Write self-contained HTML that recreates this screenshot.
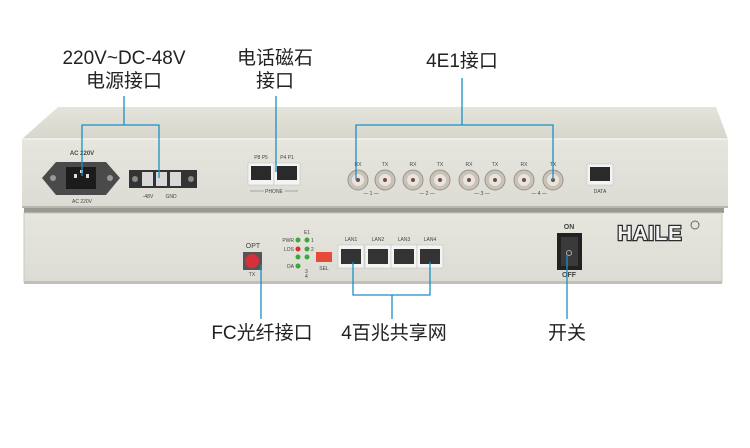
<!DOCTYPE html>
<html><head><meta charset="utf-8"><style>
html,body{margin:0;padding:0;background:#fff;}
svg{display:block;}
.lbl{font-family:"Liberation Sans","Noto Sans CJK SC",sans-serif;font-size:19px;fill:#222;}
.s{font-family:"Liberation Sans",sans-serif;font-size:5px;fill:#444;}
</style></head><body>
<svg width="750" height="448" viewBox="0 0 750 448" xmlns="http://www.w3.org/2000/svg">
<defs>
<linearGradient id="top" x1="0" y1="0" x2="0" y2="1"><stop offset="0" stop-color="#e4e4dc"/><stop offset="1" stop-color="#d6d6cc"/></linearGradient>
<linearGradient id="front" x1="0" y1="0" x2="0" y2="1"><stop offset="0" stop-color="#e6e6df"/><stop offset="1" stop-color="#dcdcd4"/></linearGradient>
</defs>
<polygon points="58,107 716,107 728,139 22,139" fill="url(#top)"/>
<rect x="22" y="139" width="706" height="69" fill="url(#front)"/>
<line x1="22" y1="139" x2="728" y2="139" stroke="#f4f4ef" stroke-width="1.5"/>
<rect x="22" y="206" width="706" height="2" fill="#b8b8b0"/>
<rect x="24" y="208" width="700" height="5" fill="#9a9a92"/>
<rect x="24" y="213" width="698" height="69" fill="url(#front)" stroke="#c8c8c0" stroke-width="1"/>
<rect x="24" y="281" width="698" height="3" fill="#c0c0b8"/>

<polygon points="56,162 106,162 120,178 106,195 56,195 42,178" fill="#4a4a4a"/>
<circle cx="53" cy="178" r="3" fill="#999"/><circle cx="110" cy="178" r="3" fill="#999"/>
<rect x="66" y="167" width="30" height="22" fill="#1c1c1c"/>
<rect x="74" y="174" width="3" height="4" fill="#ddd"/><rect x="86" y="174" width="3" height="4" fill="#ddd"/><rect x="80" y="170" width="3" height="3" fill="#ddd"/>
<text class="s" x="82" y="155" text-anchor="middle" style="font-size:6px;font-weight:bold">AC 220V</text>
<text class="s" x="82" y="203" text-anchor="middle">AC 220V</text>
<rect x="129" y="170" width="68" height="18" fill="#333"/>
<circle cx="135" cy="179" r="3" fill="#888"/><circle cx="191" cy="179" r="3" fill="#888"/>
<rect x="142" y="172" width="11" height="14" fill="#d8d8d8"/><rect x="156" y="172" width="11" height="14" fill="#d8d8d8"/><rect x="170" y="172" width="11" height="14" fill="#d8d8d8"/>
<text class="s" x="148" y="198" text-anchor="middle">-48V</text>
<text class="s" x="171" y="198" text-anchor="middle">GND</text>
<text class="s" x="261" y="159" text-anchor="middle">P8 P5</text>
<text class="s" x="287" y="159" text-anchor="middle">P4 P1</text>
<rect x="248" y="163" width="26" height="22" fill="#f4f4f4" stroke="#bbb" stroke-width=".5"/>
<rect x="274" y="163" width="26" height="22" fill="#f4f4f4" stroke="#bbb" stroke-width=".5"/>
<rect x="251" y="166" width="20" height="14" fill="#2a2a2a"/><rect x="277" y="166" width="20" height="14" fill="#2a2a2a"/>
<text class="s" x="274" y="193" text-anchor="middle">PHONE</text>
<line x1="250" y1="191" x2="264" y2="191" stroke="#666" stroke-width=".5"/><line x1="285" y1="191" x2="298" y2="191" stroke="#666" stroke-width=".5"/>
<g fill="#c8c2b8" stroke="#9a958c" stroke-width="1">
<circle cx="358" cy="180" r="10"/><circle cx="385" cy="180" r="10"/><circle cx="413" cy="180" r="10"/><circle cx="440" cy="180" r="10"/>
<circle cx="469" cy="180" r="10"/><circle cx="495" cy="180" r="10"/><circle cx="524" cy="180" r="10"/><circle cx="553" cy="180" r="10"/>
</g>
<g fill="#e8e4de"><circle cx="358" cy="180" r="6"/><circle cx="385" cy="180" r="6"/><circle cx="413" cy="180" r="6"/><circle cx="440" cy="180" r="6"/><circle cx="469" cy="180" r="6"/><circle cx="495" cy="180" r="6"/><circle cx="524" cy="180" r="6"/><circle cx="553" cy="180" r="6"/></g>
<g fill="#7a4a40"><circle cx="358" cy="180" r="2"/><circle cx="385" cy="180" r="2"/><circle cx="413" cy="180" r="2"/><circle cx="440" cy="180" r="2"/><circle cx="469" cy="180" r="2"/><circle cx="495" cy="180" r="2"/><circle cx="524" cy="180" r="2"/><circle cx="553" cy="180" r="2"/></g>
<g class="s" text-anchor="middle">
<text x="358" y="166">RX</text><text x="385" y="166">TX</text><text x="413" y="166">RX</text><text x="440" y="166">TX</text>
<text x="469" y="166">RX</text><text x="495" y="166">TX</text><text x="524" y="166">RX</text><text x="553" y="166">TX</text>
<text x="371" y="195">— 1 —</text><text x="427" y="195">— 2 —</text><text x="482" y="195">— 3 —</text><text x="539" y="195">— 4 —</text>
</g>
<rect x="587" y="164" width="26" height="21" fill="#f4f4f4" stroke="#bbb" stroke-width=".5"/>
<rect x="590" y="167" width="20" height="14" fill="#2a2a2a"/>
<text class="s" x="600" y="193" text-anchor="middle">DATA</text>

<text class="s" x="253" y="248" text-anchor="middle" style="font-size:7px">OPT</text>
<rect x="243" y="252" width="19" height="18" fill="#555"/>
<circle cx="252" cy="261" r="7" fill="#d8303a"/>
<text class="s" x="252" y="276" text-anchor="middle">TX</text>
<text class="s" x="307" y="234" text-anchor="middle">E1</text>
<g class="s" text-anchor="end"><text x="294" y="242">PWR</text><text x="294" y="251">LOS</text><text x="294" y="268">OA</text></g>
<g fill="#3aa83a"><circle cx="298" cy="240" r="2.5"/><circle cx="307" cy="240" r="2.5"/><circle cx="307" cy="249" r="2.5"/><circle cx="298" cy="257" r="2.5"/><circle cx="307" cy="257" r="2.5"/><circle cx="298" cy="266" r="2.5"/></g>
<circle cx="298" cy="249" r="2.5" fill="#d83030"/>
<g class="s"><text x="311" y="242">1</text><text x="311" y="251">2</text><text x="305" y="273">3</text><text x="305" y="278">4</text></g>
<rect x="316" y="252" width="16" height="10" fill="#e84a3a"/>
<text class="s" x="324" y="270" text-anchor="middle">SEL</text>
<g class="s" text-anchor="middle"><text x="351" y="241">LAN1</text><text x="378" y="241">LAN2</text><text x="404" y="241">LAN3</text><text x="430" y="241">LAN4</text></g>
<g fill="#f4f4f4" stroke="#bbb" stroke-width=".5">
<rect x="338" y="245" width="26" height="23"/><rect x="365" y="245" width="26" height="23"/><rect x="391" y="245" width="26" height="23"/><rect x="417" y="245" width="26" height="23"/></g>
<g fill="#333"><rect x="341" y="249" width="20" height="15"/><rect x="368" y="249" width="20" height="15"/><rect x="394" y="249" width="20" height="15"/><rect x="420" y="249" width="20" height="15"/></g>
<text class="s" x="569" y="229" text-anchor="middle" style="font-size:7px;font-weight:bold">ON</text>
<rect x="557" y="233" width="25" height="37" fill="#222"/>
<rect x="561" y="237" width="17" height="29" fill="#3a3a3a"/>
<circle cx="569" cy="253" r="2.5" fill="none" stroke="#aaa" stroke-width="1"/>
<text class="s" x="569" y="277" text-anchor="middle" style="font-size:7px;font-weight:bold">OFF</text>
<text x="650" y="240" text-anchor="middle" style="font-family:'Liberation Sans',sans-serif;font-weight:bold;font-size:20px;fill:#f2f2f2;stroke:#2a2a2a;stroke-width:2.5;paint-order:stroke;letter-spacing:1px">HAILE</text>
<circle cx="695" cy="225" r="4" fill="none" stroke="#666" stroke-width="1"/>

<g stroke="#1b8fc4" stroke-width="1.3" fill="none">
<polyline points="124,96 124,125"/>
<polyline points="82,176 82,125 159,125 159,178"/>
<polyline points="276,96 276,172"/>
<polyline points="462,78 462,125"/>
<polyline points="356,180 356,125 553,125 553,180"/>
<polyline points="261,265 261,319"/>
<polyline points="353,262 353,295 430,295 430,262"/>
<polyline points="392,295 392,319"/>
<polyline points="567,255 567,319"/>
</g>

<g class="lbl" text-anchor="middle">
<text x="124" y="64">220V~DC-48V</text>
<text x="124" y="87">电源接口</text>
<text x="275" y="64">电话磁石</text>
<text x="275" y="87">接口</text>
<text x="462" y="67">4E1接口</text>
<text x="262" y="339">FC光纤接口</text>
<text x="394" y="339">4百兆共享网</text>
<text x="567" y="339">开关</text>
</g>
</svg>
</body></html>
